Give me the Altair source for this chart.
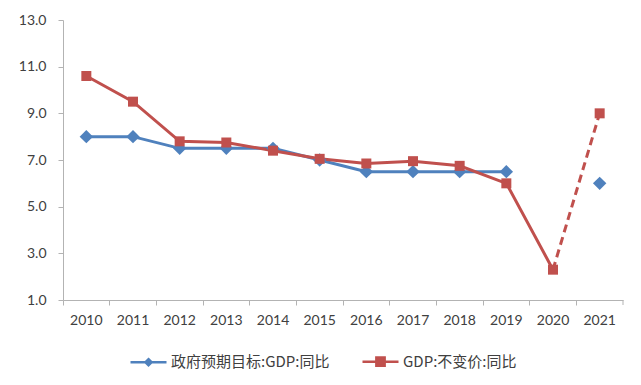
import altair as alt
import pandas as pd

years = ["2010", "2011", "2012", "2013", "2014", "2015", "2016", "2017", "2018", "2019", "2020", "2021"]
target = [8.0, 8.0, 7.5, 7.5, 7.5, 7.0, 6.5, 6.5, 6.5, 6.5, None, 6.0]
gdp = [10.6, 9.5, 7.8, 7.75, 7.4, 7.05, 6.85, 6.95, 6.75, 6.0, 2.3, 9.0]
series = ["政府预期目标:GDP:同比", "GDP:不变价:同比"]
colors = ["#4F81BD", "#C0504D"]

df = pd.DataFrame({"year": years, "target": target, "gdp": gdp})
df["idx"] = range(len(years))

x_enc = alt.X(
    "year:O",
    sort=years,
    scale=alt.Scale(type="band", paddingInner=0, paddingOuter=0),
    axis=alt.Axis(title=None, labelAngle=0, bandPosition=0, labelPadding=8, tickSize=5,
                  domainColor="#B3B3B3", tickColor="#B3B3B3", labelColor="#404040",
                  labelFont="Lato", labelFontSize=14, grid=False, labelBound=False),
)
y_scale = alt.Scale(domain=[1, 13], nice=False, zero=False)
y_axis = alt.Axis(title=None, values=[1, 3, 5, 7, 9, 11, 13], format=".1f", tickSize=5,
                  labelPadding=12, domainColor="#B3B3B3", tickColor="#B3B3B3",
                  labelColor="#404040", labelFont="Lato", labelFontSize=14, grid=False)

base = alt.Chart(df)

blue_line = base.transform_filter("datum.idx <= 9").mark_line(color=colors[0], strokeWidth=3).encode(
    x=x_enc, y=alt.Y("target:Q", scale=y_scale, axis=y_axis))
blue_pts = base.transform_filter("isValid(datum.target)").mark_point(
    shape="diamond", filled=True, size=180, color=colors[0], opacity=1).encode(
    x=x_enc, y=alt.Y("target:Q", scale=y_scale, axis=y_axis))
red_line = base.transform_filter("datum.idx <= 10").mark_line(color=colors[1], strokeWidth=3).encode(
    x=x_enc, y=alt.Y("gdp:Q", scale=y_scale, axis=y_axis))
red_dash = base.transform_filter("datum.idx >= 10").mark_line(
    color=colors[1], strokeWidth=3, strokeDash=[8, 5]).encode(
    x=x_enc, y=alt.Y("gdp:Q", scale=y_scale, axis=y_axis))
red_pts = base.mark_point(shape="square", filled=True, size=100, color=colors[1], opacity=1).encode(
    x=x_enc, y=alt.Y("gdp:Q", scale=y_scale, axis=y_axis))

# closing tick at the right end of the category axis (styling only)
end_tick = alt.Chart(pd.DataFrame({"k": [0]})).mark_rule(color="#B3B3B3", strokeWidth=1).encode(
    x=alt.value(560), y=alt.value(280), y2=alt.value(285))

legend_df = pd.DataFrame({"series": series})
shapes = ["M-1,0H1M0,-0.17L0.17,0L0,0.17L-0.17,0Z", "M-1,0H1M-0.23,-0.23H0.23V0.23H-0.23Z"]
leg = alt.Legend(title=None, orient="none", legendX=66, legendY=322, direction="horizontal",
                 symbolSize=1296, symbolStrokeWidth=2.5, symbolOpacity=1, labelOffset=3,
                 columnPadding=27, labelLimit=400, labelFont="Noto Sans CJK SC",
                 labelFontSize=15, labelColor="#404040", padding=0)
legend_layer = alt.Chart(legend_df).mark_point(filled=True, opacity=0).encode(
    fill=alt.Fill("series:N", scale=alt.Scale(domain=series, range=colors), legend=leg),
    stroke=alt.Stroke("series:N", scale=alt.Scale(domain=series, range=colors), legend=leg),
    shape=alt.Shape("series:N", scale=alt.Scale(domain=series, range=shapes), legend=leg),
)

chart = alt.layer(blue_line, red_line, red_dash, blue_pts, red_pts, end_tick, legend_layer).properties(
    width=560, height=280,
    autosize=alt.AutoSizeParams(type="none"),
    padding={"left": 55, "top": 12, "right": 10, "bottom": 70},
    background="white",
).configure_view(stroke=None)

chart.save("out.html", embed_options={"renderer": "svg", "actions": False})
